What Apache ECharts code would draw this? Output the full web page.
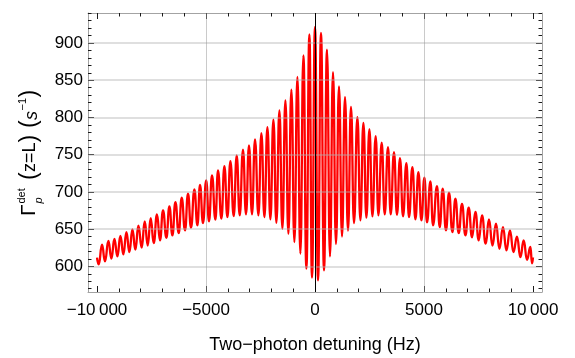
<!DOCTYPE html>
<html>
<head>
<meta charset="utf-8">
<script src="https://cdn.jsdelivr.net/npm/echarts@6/dist/echarts.min.js"></script>
<style>
  html, body { margin: 0; padding: 0; background: #ffffff; }
  #chart { width: 575px; height: 358px; }
</style>
</head>
<body>
<div id="chart"></div>
<script>
// Detected photon rate vs two-photon detuning: local maxima of the fringe pattern
const peakDetuningHz = [
  -9771, -9477, -9202, -8927, -8651, -8376, -8101, -7812, -7537, -7248,
  -6972, -6679, -6404, -6115, -5826, -5532, -5275, -4991, -4725, -4450,
  -4156, -3881, -3592, -3303, -3028, -2752, -2459, -2183, -1908, -1633,
  -1358, -1083, -807, -532, -257, 0, 275, 550, 826, 1101,
  1376, 1651, 1945, 2220, 2495, 2784, 3060, 3349, 3624, 3899,
  4193, 4468, 4743, 5018, 5294, 5596, 5858, 6147, 6440, 6743,
  7050, 7358, 7661, 7982, 8303, 8624, 8945, 9266, 9573, 9881
];
const peakRate = [
  629, 634, 637, 641, 646, 649.6, 654.6, 660.3, 664.8, 669.8,
  675.2, 680.6, 686.3, 692.2, 697.6, 703.4, 709.5, 715.5, 722.2, 729,
  734.7, 741.4, 749, 756.7, 762.5, 770.6, 779, 787, 797, 809.5,
  823, 837.4, 854.3, 883.5, 911.7, 921.5, 913.4, 891, 861, 841.8,
  827.4, 814, 800.5, 792.5, 784.4, 775, 766, 760, 753.5, 745.4,
  738.7, 733.3, 726.6, 719, 714, 707.8, 704.3, 699, 691, 684,
  678.8, 673, 668.4, 663, 657.3, 652.7, 648.3, 640, 634.8, 626
];

// local minima of the fringe pattern
const troughDetuningHz = [
  -9922, -9633, -9339, -9064, -8789, -8514, -8239, -7950, -7674, -7399,
  -7110, -6817, -6541, -6252, -5963, -5688, -5394, -5138, -4862, -4569,
  -4294, -4018, -3729, -3454, -3165, -2890, -2596, -2321, -2046, -1771,
  -1495, -1220, -945, -670, -394, -138,
  138, 413, 688, 963, 1239, 1514, 1789, 2083, 2358, 2633,
  2908, 3197, 3472, 3761, 4037, 4312, 4606, 4881, 5138, 5413,
  5720, 6009, 6303, 6592, 6899, 7202, 7509, 7830, 8138, 8459,
  8780, 9101, 9422, 9725, 9955
];
const troughRate = [
  602.6, 606.7, 610.3, 613.4, 616, 619, 622.3, 625, 628, 631.2,
  634.8, 638.4, 641.5, 644.6, 648.3, 651.9, 655, 658, 660.3, 662.6,
  664, 666, 667.5, 668.4, 669.8, 669.8, 668.4, 666, 663, 658.6,
  650.5, 643.8, 632.5, 617, 597, 584.8,
  581, 594.6, 613.3, 630, 640, 648, 658, 661.7, 665.3, 667,
  668.4, 669.8, 669.8, 669, 667, 666, 663, 661.7, 659, 655,
  652.7, 648.3, 646, 644.6, 641.5, 639, 634.8, 630.4, 628, 623.6,
  621.4, 619, 612.3, 608.8, 604
];

// end points of the scan
const edgeDetuningHz = [-10000, 10000];
const edgeRate = [611.6, 612];

// axis ticks
const xLabelValues = [-10000, -5000, 0, 5000, 10000];
const yLabelValues = [600, 650, 700, 750, 800, 850, 900];
const xGridValues = [-5000, 5000];

const X_MIN = -10413, X_MAX = 10413;
const Y_MIN = 565.5, Y_MAX = 940.3;

const xMinorValues = [];
for (let v = -10000; v <= 10000; v += 1000) xMinorValues.push(v);
const yMinorValues = [];
for (let v = 570; v <= 940; v += 10) yMinorValues.push(v);

const curve = [];
edgeDetuningHz.forEach((x, i) => curve.push([x, edgeRate[i]]));
peakDetuningHz.forEach((x, i) => curve.push([x, peakRate[i]]));
troughDetuningHz.forEach((x, i) => curve.push([x, troughRate[i]]));
curve.sort((a, b) => a[0] - b[0]);

const FONT = 'Liberation Sans, Arial, sans-serif';
const FRAME = '#a3a3a3';
const TICK = '#1a1a1a';

function formatHz(v) {
  const a = Math.abs(v);
  let s = String(a);
  if (a >= 10000) s = s.replace(/(\d)(?=(\d{3})+$)/g, '$1\u2009');
  return (v < 0 ? '\u2212' : '') + s;
}

function xAxisDef(position, major, withLabels) {
  return {
    type: 'value', position: position, min: X_MIN, max: X_MAX,
    axisLine: { show: !major, onZero: false, lineStyle: { color: FRAME, width: 1 } },
    axisTick: { show: true, inside: true, length: major ? 6 : 3.5,
      customValues: major ? xLabelValues : xMinorValues,
      lineStyle: { color: TICK, width: 1 } },
    axisLabel: { show: withLabels, customValues: xLabelValues, formatter: formatHz,
      margin: 10, color: '#000', fontSize: 17, fontFamily: FONT },
    splitLine: { show: false }
  };
}

function yAxisDef(position, major, withLabels) {
  return {
    type: 'value', position: position, min: Y_MIN, max: Y_MAX,
    axisLine: { show: !major, onZero: false, lineStyle: { color: FRAME, width: 1 } },
    axisTick: { show: true, inside: true, length: major ? 6 : 3.5,
      customValues: major ? yLabelValues : yMinorValues,
      lineStyle: { color: TICK, width: 1 } },
    axisLabel: { show: withLabels, customValues: yLabelValues,
      margin: 5, color: '#000', fontSize: 17, fontFamily: FONT },
    splitLine: { show: false }
  };
}

const gridLines = [];
yLabelValues.forEach(v => gridLines.push([
  { coord: [X_MIN, v], lineStyle: { color: 'rgba(175,175,175,0.4)', width: 2, type: 'solid' } },
  { coord: [X_MAX, v] }
]));
xGridValues.forEach(v => gridLines.push([
  { coord: [v, Y_MIN], lineStyle: { color: 'rgba(150,150,150,0.5)', width: 1, type: 'solid' } },
  { coord: [v, Y_MAX] }
]));
gridLines.push([
  { coord: [0, Y_MIN], lineStyle: { color: '#000000', width: 1, type: 'solid' } },
  { coord: [0, Y_MAX] }
]);

const txt = (t, x, y, size, extra) => ({
  type: 'text', x: x, y: y,
  style: Object.assign({ text: t, fontSize: size, fontFamily: FONT, fill: '#000',
    align: 'left', verticalAlign: 'middle' }, extra || {})
});

const chart = echarts.init(document.getElementById('chart'), null, { renderer: 'canvas' });
chart.setOption({
  animation: false,
  backgroundColor: '#ffffff',
  grid: { left: 88, right: 33, top: 13, bottom: 66, containLabel: false },
  xAxis: [
    xAxisDef('bottom', false, true),
    xAxisDef('bottom', true, false),
    xAxisDef('top', false, false),
    xAxisDef('top', true, false)
  ],
  yAxis: [
    yAxisDef('left', false, true),
    yAxisDef('left', true, false),
    yAxisDef('right', false, false),
    yAxisDef('right', true, false)
  ],
  series: [{
    type: 'line',
    xAxisIndex: 0, yAxisIndex: 0,
    data: curve,
    showSymbol: false,
    smooth: 0.5,
    smoothMonotone: 'x',
    lineStyle: { color: '#ff0000', width: 2.3 },
    z: 2,
    markLine: {
      silent: true, symbol: 'none', animation: false,
      label: { show: false },
      emphasis: { disabled: true },
      data: gridLines
    }
  }],
  graphic: [
    {
      type: 'text', x: 315, y: 345.5,
      style: { text: 'Two\u2212photon detuning (Hz)', fontSize: 18, fontFamily: FONT,
        fill: '#000', align: 'center', verticalAlign: 'middle' }
    },
    {
      type: 'group', x: 37, y: 216, rotation: Math.PI / 2,
      children: [
        txt('\u0393', 0, -7.5, 21),
        txt('det', 12.5, -15.5, 11),
        txt('p', 12.5, 2, 11, { fontStyle: 'italic' }),
        txt('(', 36, -7, 23),
        txt('z=L', 44, -6.5, 18),
        txt(')', 73.5, -7, 23),
        txt('(', 88, -7, 23),
        txt('s', 96, -5, 18, { fontStyle: 'italic' }),
        txt('\u22121', 105.5, -14, 11),
        txt(')', 118.5, -7, 23)
      ]
    }
  ]
});
</script>
</body>
</html>
